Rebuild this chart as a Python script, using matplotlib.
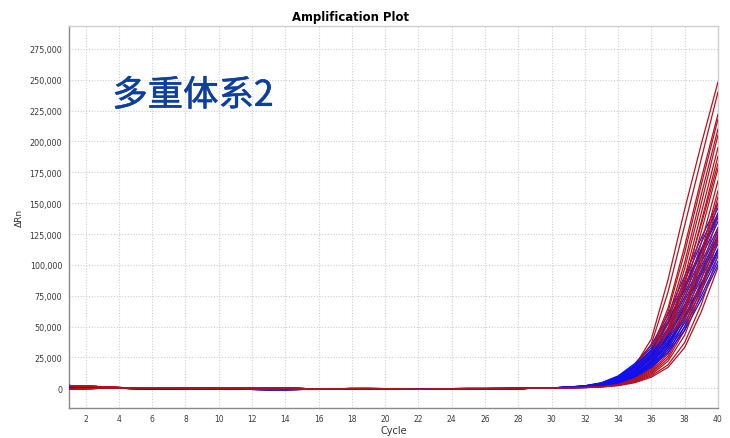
import matplotlib
matplotlib.use("Agg")
import matplotlib.pyplot as plt
import matplotlib.patheffects as pe
from matplotlib.ticker import FuncFormatter

# ---------------- data ----------------
cycles = list(range(1, 41))
late_cycles = list(range(31, 41))

# shared baseline wobble for cycles 1..30 (ΔRn)
red_base_a = [2200, 1800, 1200, 600, 200, 0, 0, 0, -100, -300, -200, -800, -700, -600,
              -900, -900, -600, -400, -300, -300, -500, -800, -700, -400, -300, -300,
              -300, -200, 0, 300]
red_base_b = [-500, -300, 0, 200, 100, -100, -100, 0, 100, 0, 300, 0, 200, 300,
              -200, -600, -400, -200, -200, -300, -600, -900, -600, -300, -200, -200,
              -100, -100, 100, 300]
blue_base = [600, 400, 200, 0, -200, -300, -300, -200, -200, -300, -500, -900, -1000, -1000,
             -900, -800, -600, -400, -300, -300, -400, -500, -500, -400, -300, -300,
             -300, -200, 0, 300]

# cycles 31..40, in thousands
red_curves = [
    [0.8, 1.6, 3.5, 8.0, 18, 40, 88, 145, 198, 248],
    [0.8, 1.5, 3.2, 7.5, 17, 36, 78, 132, 186, 240],
    [0.7, 1.4, 3.0, 7.0, 15, 31, 65, 115, 170, 222],
    [0.7, 1.3, 2.8, 6.5, 14, 29, 62, 110, 165, 218],
    [0.6, 1.2, 2.6, 6.0, 13, 27, 57, 102, 157, 210],
    [0.6, 1.2, 2.5, 5.5, 12, 25, 53, 97, 150, 205],
    [0.6, 1.1, 2.3, 5.0, 11, 23, 48, 90, 142, 195],
    [0.5, 1.0, 2.1, 4.6, 10, 21, 44, 84, 135, 188],
    [0.5, 1.0, 2.2, 4.8, 10.5, 22, 46, 86, 133, 182],
    [0.5, 1.0, 2.0, 4.3, 9.5, 20, 41, 78, 127, 178],
    [0.5, 0.9, 1.8, 4.0, 9, 19, 38, 72, 118, 168],
    [0.4, 0.9, 1.7, 3.7, 8, 17, 34, 65, 110, 160],
    [0.4, 0.8, 1.6, 3.5, 7.8, 16, 33, 63, 106, 155],
    [0.4, 0.8, 1.6, 3.4, 7.5, 15, 31, 60, 102, 150],
    [0.4, 0.8, 1.5, 3.2, 7, 14, 28, 55, 95, 140],
    [0.3, 0.7, 1.4, 3.0, 6.5, 13, 26, 50, 88, 130],
    [0.3, 0.6, 1.3, 2.8, 6, 12, 24, 47, 82, 125],
    [0.3, 0.6, 1.2, 2.6, 5.5, 11, 22, 43, 78, 120],
    [0.3, 0.6, 1.1, 2.4, 5, 10, 19, 37, 68, 108],
    [0.2, 0.5, 1.0, 2.1, 4.5, 9, 17, 33, 62, 98],
]
blue_curves = [
    [1.0, 2.0, 4.5, 10.0, 20, 35, 60, 91, 122, 150],
    [1.0, 2.0, 4.3, 9.5, 19, 33, 57, 87, 118, 146],
    [0.9, 1.9, 4.0, 9.0, 18, 31, 54, 83, 113, 142],
    [0.9, 1.8, 3.9, 8.7, 17.5, 31, 53, 82, 112, 140],
    [0.9, 1.8, 3.8, 8.5, 17, 30, 52, 80, 110, 138],
    [0.8, 1.7, 3.6, 8.0, 16, 28, 49, 77, 106, 135],
    [0.8, 1.6, 3.4, 7.5, 15, 27, 47, 74, 102, 130],
    [0.8, 1.5, 3.2, 7.0, 14, 26, 45, 71, 99, 127],
    [0.7, 1.5, 3.0, 6.6, 13.5, 25, 43, 68, 96, 124],
    [0.7, 1.4, 2.9, 6.4, 13, 24, 42, 66, 94, 122],
    [0.7, 1.4, 2.9, 6.2, 13, 24, 41, 65, 92, 120],
    [0.7, 1.3, 2.7, 5.8, 12, 22, 39, 62, 89, 117],
    [0.6, 1.2, 2.5, 5.4, 11, 21, 37, 59, 85, 113],
    [0.6, 1.2, 2.5, 5.3, 11, 21, 36, 58, 84, 112],
    [0.6, 1.2, 2.4, 5.0, 10.5, 20, 35, 56, 82, 110],
    [0.6, 1.1, 2.3, 4.8, 10, 19, 33, 53, 79, 107],
    [0.5, 1.0, 2.1, 4.5, 9.5, 18, 31, 50, 75, 103],
    [0.5, 1.0, 2.0, 4.2, 9, 17, 29, 47, 72, 100],
]

title = "Amplification Plot"
x_label = "Cycle"
y_label = "ΔRn"
annotation = "多重体系2"
x_ticks = list(range(2, 41, 2))
y_ticks = list(range(0, 275001, 25000))

# ---------------- drawing ----------------
RED = "#b3121e"
BLUE = "#1010f0"

fig = plt.figure(figsize=(7.30, 4.39), dpi=100)
ax = fig.add_axes([0.0945, 0.0683, 0.889, 0.870])

n = max(len(red_curves), len(blue_curves))
for i in range(n):
    if i < len(blue_curves):
        ys = blue_base + [v * 1000 for v in blue_curves[i]]
        ax.plot(cycles, ys, color=BLUE, lw=0.9, zorder=3)
    if i < len(red_curves):
        base = red_base_a if i % 2 == 0 else red_base_b
        ys = base + [v * 1000 for v in red_curves[i]]
        ax.plot(cycles, ys, color=RED, lw=0.9, zorder=3)

ax.set_xlim(1, 40)
ax.set_ylim(-16000, 293500)
ax.set_xticks(x_ticks)
ax.set_yticks(y_ticks)
ax.yaxis.set_major_formatter(FuncFormatter(lambda v, p: f"{int(v):,}"))
ax.grid(True, color="#d0d0d0", linestyle=(0, (1, 1.5)), linewidth=0.8, zorder=0)
ax.set_axisbelow(True)

for s in ["left", "bottom"]:
    ax.spines[s].set_color("#8a8a8a")
    ax.spines[s].set_linewidth(1.0)
for s in ["top", "right"]:
    ax.spines[s].set_color("#d0d0d0")
    ax.spines[s].set_linewidth(1.0)

ax.tick_params(axis="both", length=0, colors="#3a3a3a")
ax.tick_params(axis="y", labelsize=5.8, pad=5)
ax.tick_params(axis="x", labelsize=5.5, pad=4)

fig.text(350 / 730, 1 - 17 / 439, title, fontsize=8.4, fontweight="bold",
         ha="center", va="center", family="DejaVu Sans")
ax.set_xlabel(x_label, fontsize=7, color="#333333", labelpad=2)
ax.set_ylabel(y_label, fontsize=6.5, color="#333333", labelpad=4)

ax.text(3.6, 237000, annotation, fontsize=25.5, color="#0d3f9e", va="center", ha="left",
        family=["Noto Sans CJK SC", "DejaVu Sans"], fontweight="normal",
        path_effects=[pe.withStroke(linewidth=0.4, foreground="#0d3f9e")])

fig.savefig("out.png", dpi=100)
